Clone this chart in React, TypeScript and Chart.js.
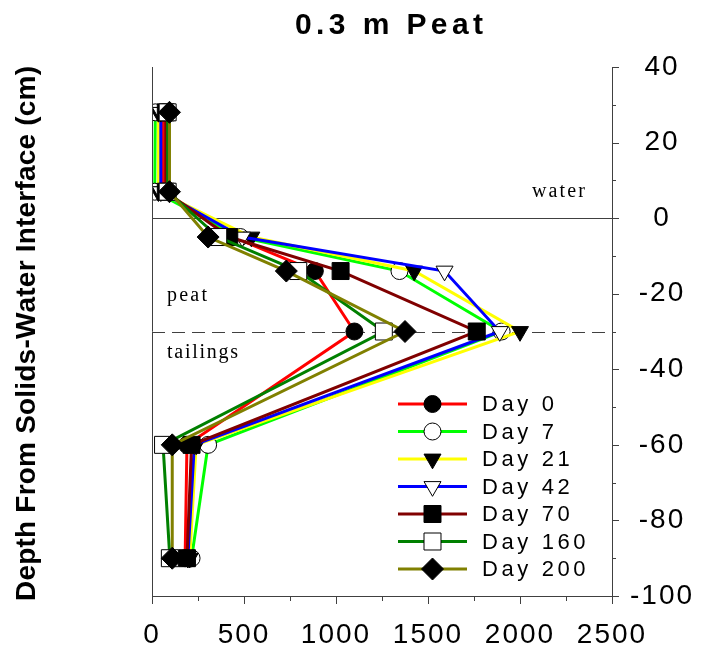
import React, { useEffect, useRef } from 'react';
import { Chart, registerables } from 'chart.js';

Chart.register(...registerables);

// ---------- data ----------
const depthCm = [28, 7, -5, -14, -30, -60, -90];
const seriesLabels = ['Day 0', 'Day 7', 'Day 21', 'Day 42', 'Day 70', 'Day 160', 'Day 200'];
const day0 = [62, 62, 440, 885, 1100, 190, 180];
const day7 = [18, 15, 480, 1345, 1900, 305, 215];
const day21 = [35, 35, 540, 1425, 2000, 240, 205];
const day42 = [48, 48, 490, 1590, 1890, 230, 195];
const day70 = [75, 75, 420, 1025, 1765, 215, 190];
const day160 = [85, 85, 360, 795, 1260, 60, 97];
const day200 = [95, 95, 305, 730, 1375, 110, 110];
const xTickValues = [0, 500, 1000, 1500, 2000, 2500];
const yTickValues = [40, 20, 0, -20, -40, -60, -80, -100];
const regionLabels = ['water', 'peat', 'tailings'];
const boundaryDepths = [0, -30];
const titleText = '0.3 m Peat';
const yTitleText = 'Depth From Solids-Water Interface (cm)';

// ---------- styles ----------
const seriesValues = [day0, day7, day21, day42, day70, day160, day200];
const lineColors = ['#ff0000', '#00ff00', '#ffff00', '#0000ff', '#800000', '#008000', '#808000'];
const markerShapes = ['circle', 'circle', 'triangle', 'triangle', 'rect', 'rect', 'rectRot'];
const markerFilled = [true, false, true, false, true, false, true];
const markerRadius: Record<string, number> = { circle: 8.5, triangle: 9.8, rect: 12, rectRot: 11 };
const axisColor = '#404040';
const SANS = '"Liberation Sans", Arial, sans-serif';
const SERIF = '"Liberation Serif", "Times New Roman", serif';

function drawSpaced(ctx: CanvasRenderingContext2D, text: string, x: number, y: number, font: string, width: number, align: 'left' | 'center' | 'right') {
  ctx.save();
  ctx.font = font;
  (ctx as any).letterSpacing = '0px';
  ctx.textAlign = 'left';
  const widths = Array.from(text).map((c) => ctx.measureText(c).width);
  const natural = widths.reduce((a, b) => a + b, 0);
  const n = text.length - 1;
  const sp = n > 0 ? (width - natural) / n : 0;
  let cx = align === 'left' ? x : align === 'center' ? x - width / 2 : x - width;
  Array.from(text).forEach((c, i) => {
    ctx.fillText(c, cx, y);
    cx += widths[i] + sp;
  });
  ctx.restore();
}

function drawMarker(ctx: CanvasRenderingContext2D, shape: string, x: number, y: number, filled: boolean) {
  const r = markerRadius[shape];
  ctx.save();
  ctx.beginPath();
  if (shape === 'circle') {
    ctx.arc(x, y, r, 0, Math.PI * 2);
  } else if (shape === 'triangle') {
    ctx.moveTo(x, y + r);
    ctx.lineTo(x - r * Math.sin(Math.PI / 3), y - r / 2);
    ctx.lineTo(x + r * Math.sin(Math.PI / 3), y - r / 2);
    ctx.closePath();
  } else if (shape === 'rect') {
    const s = r * Math.SQRT1_2;
    ctx.rect(x - s, y - s, 2 * s, 2 * s);
  } else {
    ctx.moveTo(x - r, y);
    ctx.lineTo(x, y - r);
    ctx.lineTo(x + r, y);
    ctx.lineTo(x, y + r);
    ctx.closePath();
  }
  ctx.fillStyle = filled ? '#000' : '#fff';
  ctx.fill();
  ctx.lineWidth = 1;
  ctx.strokeStyle = '#000';
  ctx.stroke();
  ctx.restore();
}

const TICK_SPACING = '2px';

const decorPlugin = {
  id: 'decor',
  beforeUpdate(chart: any) {
    chart.ctx.letterSpacing = TICK_SPACING;
  },
  beforeDraw(chart: any) {
    chart.ctx.letterSpacing = TICK_SPACING;
  },
  beforeDatasetsDraw(chart: any) {
    const ctx: CanvasRenderingContext2D = chart.ctx;
    const { left, right } = chart.chartArea;
    const ys = chart.scales.y;
    ctx.save();
    ctx.strokeStyle = axisColor;
    ctx.lineWidth = 1;
    boundaryDepths.forEach((d, i) => {
      const py = Math.round(ys.getPixelForValue(d)) + 0.5;
      ctx.setLineDash(i === 0 ? [] : [13, 7]);
      ctx.beginPath();
      ctx.moveTo(left, py);
      ctx.lineTo(right, py);
      ctx.stroke();
    });
    ctx.restore();
    ctx.save();
    ctx.fillStyle = '#000';
    ctx.textBaseline = 'alphabetic';
    const f = '20px ' + SERIF;
    drawSpaced(ctx, regionLabels[0], right - 27, ys.getPixelForValue(0) - 21, f, 53, 'right');
    drawSpaced(ctx, regionLabels[1], left + 15, ys.getPixelForValue(-30) - 31, f, 40, 'left');
    drawSpaced(ctx, regionLabels[2], left + 15, ys.getPixelForValue(-30) + 26, f, 71, 'left');
    ctx.restore();
  },
  afterDraw(chart: any) {
    const ctx: CanvasRenderingContext2D = chart.ctx;
    const { left, right, top, bottom } = chart.chartArea;
    const xs = chart.scales.x;
    const ys = chart.scales.y;
    ctx.save();
    ctx.strokeStyle = axisColor;
    ctx.lineWidth = 1;
    ctx.setLineDash([]);
    // left frame line
    ctx.beginPath();
    ctx.moveTo(left + 0.5, top);
    ctx.lineTo(left + 0.5, bottom);
    ctx.moveTo(right, bottom + 0.5);
    ctx.lineTo(right + 6, bottom + 0.5);
    // x ticks
    xTickValues.forEach((v, i) => {
      const px = Math.round(xs.getPixelForValue(v)) + 0.5;
      ctx.moveTo(px, bottom);
      ctx.lineTo(px, bottom + 8);
      if (i < xTickValues.length - 1) {
        const mx = Math.round(xs.getPixelForValue((v + xTickValues[i + 1]) / 2)) + 0.5;
        ctx.moveTo(mx, bottom);
        ctx.lineTo(mx, bottom + 5);
      }
    });
    // y ticks
    yTickValues.forEach((v, i) => {
      const py = Math.round(ys.getPixelForValue(v)) + 0.5;
      ctx.moveTo(right, py);
      ctx.lineTo(right + 7, py);
      if (i < yTickValues.length - 1) {
        const my = Math.round(ys.getPixelForValue((v + yTickValues[i + 1]) / 2)) + 0.5;
        ctx.moveTo(right, my);
        ctx.lineTo(right + 4, my);
      }
    });
    ctx.stroke();
    ctx.restore();

    // legend
    const lx0 = left + 246;
    const lx1 = left + 315;
    const tx = left + 330;
    const ly0 = top + 337;
    const dy = 27.5;
    chart.data.datasets.forEach((ds: any, i: number) => {
      const y = ly0 + i * dy;
      ctx.save();
      ctx.strokeStyle = lineColors[i];
      ctx.lineWidth = 3;
      ctx.beginPath();
      ctx.moveTo(lx0, y);
      ctx.lineTo(lx1, y);
      ctx.stroke();
      ctx.restore();
      drawMarker(ctx, markerShapes[i], (lx0 + lx1) / 2, y, markerFilled[i]);
      ctx.save();
      ctx.fillStyle = '#000';
      ctx.textBaseline = 'middle';
      ctx.font = '22px ' + SANS;
      (ctx as any).letterSpacing = '3.6px';
      ctx.textAlign = 'left';
      ctx.fillText(ds.label, tx, y + 1);
      ctx.restore();
    });

    // titles
    ctx.save();
    ctx.fillStyle = '#000';
    ctx.textBaseline = 'alphabetic';
    drawSpaced(ctx, titleText, (left + right) / 2 + 7, 33.5, 'bold 30px ' + SANS, 188, 'center');
    ctx.translate(35, (top + bottom) / 2 + 2);
    ctx.rotate(-Math.PI / 2);
    drawSpaced(ctx, yTitleText, 0, 0, 'bold 28px ' + SANS, 535, 'center');
    ctx.restore();
  },
};

export default function App() {
  const ref = useRef<HTMLCanvasElement | null>(null);
  useEffect(() => {
    if (!ref.current) return;
    const datasets = seriesValues.map((vals, i) => {
      const shape = markerShapes[i];
      return {
        label: seriesLabels[i],
        data: vals.map((v, j) => ({ x: v, y: depthCm[j] })),
        order: -i,
        borderColor: lineColors[i],
        backgroundColor: lineColors[i],
        borderWidth: 3,
        pointStyle: shape,
        pointRotation: shape === 'triangle' ? 180 : 0,
        pointRadius: markerRadius[shape],
        pointBackgroundColor: markerFilled[i] ? '#000' : '#fff',
        pointBorderColor: '#000',
        pointBorderWidth: 1,
        tension: 0,
        fill: false,
      };
    });
    const tickFont = { family: SANS, size: 28 };
    const chart = new Chart(ref.current, {
      type: 'line',
      data: { datasets },
      options: {
        animation: false,
        responsive: true,
        maintainAspectRatio: false,
        layout: { padding: { left: 152, top: 67, right: 0, bottom: 0 } },
        plugins: { legend: { display: false }, title: { display: false }, tooltip: { enabled: false } },
        scales: {
          x: {
            type: 'linear',
            position: 'bottom',
            min: 0,
            max: 2500,
            afterBuildTicks: (s: any) => { s.ticks = xTickValues.map((v) => ({ value: v })); },
            afterFit: (s: any) => { s.height = 57; },
            grid: { display: false, drawTicks: false },
            border: { display: true, color: axisColor, width: 1 },
            ticks: { color: '#000', font: tickFont, padding: 22, maxRotation: 0, autoSkip: false, callback: (v: any) => String(v) },
          },
          y: {
            type: 'linear',
            position: 'right',
            min: -100,
            max: 40,
            afterBuildTicks: (s: any) => { s.ticks = yTickValues.map((v) => ({ value: v })); },
            afterFit: (s: any) => { s.width = 101; },
            grid: { display: false, drawTicks: false },
            border: { display: true, color: axisColor, width: 1 },
            ticks: { color: '#000', font: tickFont, padding: 18, crossAlign: 'center', autoSkip: false, callback: (v: any) => String(v) },
          },
        },
      },
      plugins: [decorPlugin],
    } as any);
    return () => chart.destroy();
  }, []);
  return (
    <div style={{ position: 'fixed', left: 0, top: 0, width: 713, height: 653, background: '#fff' }}>
      <canvas ref={ref} />
    </div>
  );
}
